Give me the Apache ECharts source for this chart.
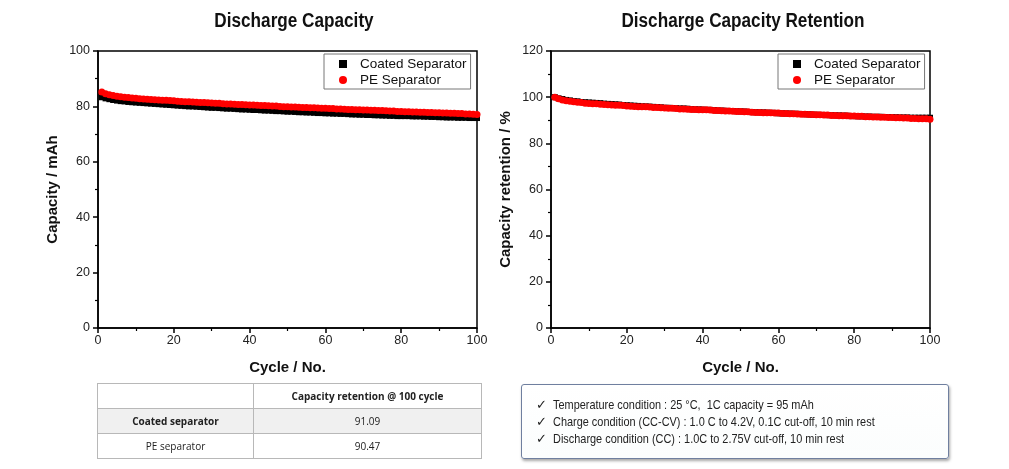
<!DOCTYPE html>
<html><head><meta charset="utf-8">
<script src="https://cdn.jsdelivr.net/npm/echarts@6/dist/echarts.min.js"></script>
<style>
html,body{margin:0;padding:0;background:#fff;width:1009px;height:469px;overflow:hidden;font-family:"Liberation Sans",Arial,sans-serif;}
#chart{position:absolute;left:0;top:0;width:1009px;height:469px;}
#tbl{position:absolute;left:97px;top:383px;width:385px;border-collapse:collapse;font-family:"Open Sans",sans-serif;font-size:10px;color:#222;}
#tbl td{border:1px solid #b8b8b8;height:24px;text-align:center;padding:0;}
#tbl tr.g td{background:#f0f0f0;}
#info{position:absolute;left:521px;top:384px;width:426px;height:73px;border:1px solid #6f7f9f;border-radius:3px;box-shadow:1px 2px 3px rgba(0,0,0,0.35);background:linear-gradient(#ffffff,#fbfdfd);font-family:"Liberation Sans",sans-serif;font-size:13px;color:#222;}
#info div{position:absolute;left:14px;white-space:nowrap;}
#info span.c{display:inline-block;width:17px;}
#info span.t{display:inline-block;transform:scaleX(0.84);transform-origin:0 50%;}
</style></head>
<body>
<div id="chart"></div>
<table id="tbl">
<tr><td style="width:155px"></td><td style="font-weight:bold">Capacity retention @ 100 cycle</td></tr>
<tr class="g"><td style="font-weight:bold">Coated separator</td><td id="v1"></td></tr>
<tr><td>PE separator</td><td id="v2"></td></tr>
</table>
<div id="info">
<div style="top:12px"><span class="c">✓</span><span class="t">Temperature condition : 25 °C,&nbsp; 1C capacity = 95 mAh</span></div>
<div style="top:29px"><span class="c">✓</span><span class="t">Charge condition (CC-CV) : 1.0 C to 4.2V, 0.1C cut-off, 10 min rest</span></div>
<div style="top:46px"><span class="c">✓</span><span class="t">Discharge condition (CC) : 1.0C to 2.75V cut-off, 10 min rest</span></div>
</div>
<script>
const seriesNames = ['Coated Separator', 'PE Separator'];
const titles = ['Discharge Capacity', 'Discharge Capacity Retention'];
const retentionAt100 = ['91.09', '90.47'];

const coatedCapacity = [
83.3,82.9,82.6,82.3,82.1,81.9,81.8,81.6,81.5,81.4,
81.3,81.2,81.1,81.0,80.9,80.8,80.7,80.6,80.5,80.4,
80.3,80.2,80.1,80.0,80.0,79.9,79.8,79.7,79.6,79.5,
79.5,79.4,79.3,79.2,79.2,79.1,79.0,78.9,78.9,78.8,
78.7,78.7,78.6,78.5,78.5,78.4,78.3,78.3,78.2,78.1,
78.1,78.0,77.9,77.9,77.8,77.8,77.7,77.6,77.6,77.5,
77.5,77.4,77.4,77.3,77.3,77.2,77.1,77.1,77.0,77.0,
76.9,76.9,76.8,76.8,76.7,76.7,76.6,76.6,76.5,76.5,
76.5,76.5,76.4,76.4,76.4,76.3,76.3,76.2,76.2,76.1,
76.1,76.0,76.0,76.0,75.9,75.9,75.9,75.8,75.8,75.8];
const peCapacity = [
85.2,84.6,84.2,83.9,83.7,83.5,83.3,83.2,83.0,82.9,
82.8,82.7,82.6,82.5,82.4,82.3,82.2,82.2,82.1,82.0,
81.9,81.8,81.7,81.7,81.6,81.5,81.4,81.4,81.3,81.2,
81.1,81.1,81.0,80.9,80.9,80.8,80.7,80.7,80.6,80.5,
80.5,80.4,80.3,80.3,80.2,80.1,80.1,80.0,79.9,79.9,
79.8,79.8,79.7,79.6,79.6,79.5,79.5,79.4,79.3,79.3,
79.2,79.2,79.1,79.1,79.0,78.9,78.9,78.8,78.8,78.7,
78.7,78.6,78.6,78.5,78.5,78.4,78.3,78.3,78.2,78.2,
78.1,78.1,78.0,78.0,77.9,77.9,77.8,77.8,77.7,77.7,
77.6,77.6,77.5,77.5,77.4,77.4,77.3,77.3,77.2,77.1];
const coatedRetention = [
100,99.5,99.2,98.8,98.6,98.3,98.2,97.9,97.8,97.7,
97.6,97.5,97.4,97.2,97.1,97.0,96.9,96.8,96.6,96.5,
96.4,96.3,96.2,96.0,96.0,95.9,95.8,95.7,95.6,95.4,
95.4,95.3,95.2,95.1,95.1,95.0,94.8,94.7,94.7,94.6,
94.5,94.5,94.4,94.2,94.2,94.1,94.0,94.0,93.9,93.8,
93.8,93.6,93.5,93.5,93.4,93.4,93.3,93.2,93.2,93.0,
93.0,92.9,92.9,92.8,92.8,92.7,92.6,92.6,92.4,92.4,
92.3,92.3,92.2,92.2,92.1,92.1,92.0,92.0,91.8,91.8,
91.7,91.7,91.6,91.6,91.5,91.5,91.5,91.4,91.4,91.3,
91.3,91.2,91.2,91.2,91.1,91.1,91.1,91.1,91.1,91.09];
const peRetention = [
100,99.3,98.8,98.5,98.2,98.0,97.8,97.7,97.4,97.3,
97.2,97.1,96.9,96.8,96.7,96.6,96.5,96.5,96.4,96.2,
96.1,96.0,95.9,95.9,95.8,95.7,95.5,95.5,95.4,95.3,
95.2,95.2,95.1,94.9,94.9,94.8,94.7,94.7,94.6,94.5,
94.5,94.4,94.2,94.2,94.1,94.0,94.0,93.9,93.8,93.8,
93.7,93.7,93.5,93.4,93.4,93.3,93.3,93.2,93.1,93.1,
92.9,92.9,92.8,92.8,92.7,92.6,92.6,92.5,92.5,92.4,
92.4,92.3,92.3,92.1,92.1,92.0,91.9,91.9,91.8,91.8,
91.7,91.7,91.5,91.5,91.4,91.4,91.3,91.3,91.2,91.2,
91.1,91.1,91.0,91.0,90.8,90.8,90.7,90.7,90.6,90.47];

document.getElementById('v1').textContent = retentionAt100[0];
document.getElementById('v2').textContent = retentionAt100[1];

const pairs = arr => arr.map((v, i) => [i + 1, v]);
const chart = echarts.init(document.getElementById('chart'), null, {renderer: 'canvas'});

const lineStyle = {color: '#000', width: 1.5};
function xAxis(gi) {
  return {
    type: 'value', gridIndex: gi, min: 0, max: 100, interval: 20,
    axisLine: {show: true, onZero: false, lineStyle},
    axisTick: {show: true, inside: false, length: 5, lineStyle},
    minorTick: {show: true, splitNumber: 2, length: 3, lineStyle: {color: '#000', width: 1.2}},
    splitLine: {show: false},
    axisLabel: {color: '#222', fontSize: 12.5, margin: 6, fontFamily: 'Liberation Sans'},
    name: 'Cycle / No.', nameLocation: 'middle', nameGap: 32,
    nameTextStyle: {fontWeight: 'bold', fontSize: 15, color: '#111', fontFamily: 'Liberation Sans'}
  };
}
function yAxis(gi, max, name) {
  return {
    type: 'value', gridIndex: gi, min: 0, max: max, interval: 20,
    axisLine: {show: true, onZero: false, lineStyle},
    axisTick: {show: true, inside: false, length: 5, lineStyle},
    minorTick: {show: true, splitNumber: 2, length: 3, lineStyle: {color: '#000', width: 1.2}},
    splitLine: {show: false},
    axisLabel: {color: '#222', fontSize: 12.5, margin: 8, fontFamily: 'Liberation Sans'},
    name: name, nameLocation: 'middle', nameGap: 38,
    nameTextStyle: {fontWeight: 'bold', fontSize: 15, color: '#111', fontFamily: 'Liberation Sans'}
  };
}
function legend(left) {
  return {
    left: left, top: 54, orient: 'vertical',
    borderColor: '#777', borderWidth: 1, padding: [3, 4, 2, 15], itemGap: 2,
    itemWidth: 8, itemHeight: 8,
    textStyle: {fontSize: 13.5, color: '#111', fontFamily: 'Liberation Sans', padding: [0, 0, 0, 8]},
    data: [{name: seriesNames[0], icon: 'rect', itemStyle: {color: '#000'}},
           {name: seriesNames[1], icon: 'circle', itemStyle: {color: '#ff0000'}}],
    selectedMode: false
  };
}
function scatter(name, gi, data, isPE) {
  return {
    type: 'scatter', name: name, xAxisIndex: gi, yAxisIndex: gi, data: data,
    symbol: isPE ? 'circle' : 'rect', symbolSize: isPE ? 7 : 6,
    itemStyle: {color: isPE ? '#ff0000' : '#000', opacity: 1},
    emphasis: {disabled: true}, animation: false
  };
}
function titleText(text, x) {
  return {
    type: 'text', x: x, y: 22, scaleX: 0.88, silent: true,
    style: {text: text, x: 0, y: 0, align: 'center', verticalAlign: 'middle',
            font: 'bold 19.5px "Liberation Sans", Arial, sans-serif', fill: '#111'}
  };
}

chart.setOption({
  animation: false,
  graphic: [titleText(titles[0], 294), titleText(titles[1], 743)],
  grid: [
    {left: 98, width: 379, top: 51, height: 277, show: true, borderColor: '#000', borderWidth: 1.5, backgroundColor: 'transparent'},
    {left: 551, width: 379, top: 51, height: 277, show: true, borderColor: '#000', borderWidth: 1.5, backgroundColor: 'transparent'}
  ],
  legend: [legend(324), legend(778)],
  xAxis: [xAxis(0), xAxis(1)],
  yAxis: [yAxis(0, 100, 'Capacity / mAh'), yAxis(1, 120, 'Capacity retention / %')],
  series: [
    scatter(seriesNames[0], 0, pairs(coatedCapacity), false),
    scatter(seriesNames[1], 0, pairs(peCapacity), true),
    scatter(seriesNames[0], 1, pairs(coatedRetention), false),
    scatter(seriesNames[1], 1, pairs(peRetention), true)
  ]
});
</script>
</body></html>
